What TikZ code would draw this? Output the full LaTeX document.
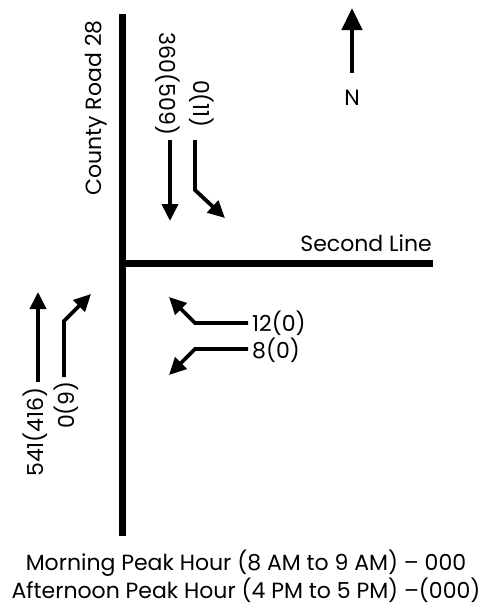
\documentclass[tikz,border=0pt]{standalone}
\usepackage{fontspec}
\setmainfont{Poppins}
\usetikzlibrary{arrows.meta}
\begin{document}
\begin{tikzpicture}[x=1pt,y=-1pt,
  road/.style={line width=7pt},
  mv/.style={line width=3.8pt,-{Triangle[length=17pt,width=16pt]}},
  lbl/.style={font=\fontsize{22}{25}\selectfont,inner sep=0pt},
  foot/.style={font=\fontsize{22}{25}\selectfont,inner sep=0pt}]
\useasboundingbox (0,0) rectangle (483,608);
% roads
\coordinate (rn) at (122,14);
\coordinate (rs) at (122,536);
\coordinate (rw) at (119,263);
\coordinate (re) at (433,263);
\draw[road] (rn) -- (rs);
\draw[road] (rw) -- (re);
\node[lbl,rotate=90] (cr) at (96,108) {County Road 28};
\node[lbl,anchor=south east] (sl) at (432,252) {Second Line};
% southbound
\node[lbl,rotate=-90] (s1) at (168,84) {360(509)};
\node[lbl,rotate=-90] (s2) at (202,104) {0(11)};
\coordinate (a1s) at (170,140);
\coordinate (a1e) at (170,221);
\draw[mv] (a1s) -- (a1e);
\coordinate (a2s) at (195,140);
\coordinate (a2m) at (195,190);
\coordinate (a2e) at (225,218);
\draw[mv] (a2s) -- (a2m) -- (a2e);
% northbound
\node[lbl,rotate=90] (n1) at (35,432) {541(416)};
\node[lbl,rotate=90] (n2) at (66,405) {0(9)};
\coordinate (b1s) at (38,382);
\coordinate (b1e) at (38,292);
\draw[mv] (b1s) -- (b1e);
\coordinate (b2s) at (64,377);
\coordinate (b2m) at (64,321);
\coordinate (b2e) at (91,294);
\draw[mv] (b2s) -- (b2m) -- (b2e);
% westbound
\node[lbl,anchor=west] (w1) at (252,323) {12(0)};
\node[lbl,anchor=west] (w2) at (252,350) {8(0)};
\coordinate (c1s) at (248,323);
\coordinate (c1m) at (195,323);
\coordinate (c1e) at (169,297);
\draw[mv] (c1s) -- (c1m) -- (c1e);
\coordinate (c2s) at (248,349);
\coordinate (c2m) at (195,349);
\coordinate (c2e) at (169,375);
\draw[mv] (c2s) -- (c2m) -- (c2e);
% north arrow
\coordinate (na) at (352,73);
\coordinate (nb) at (352,8);
\draw[line width=4.5pt,-{Triangle[length=22pt,width=20pt]}] (na) -- (nb);
\node[lbl] (N) at (352,98) {N};
% footer
\node[foot] (f1) at (246,563) {Morning Peak Hour (8 AM to 9 AM) – 000};
\node[foot] (f2) at (246,590) {Afternoon Peak Hour (4 PM to 5 PM) –(000)};
\end{tikzpicture}
\end{document}
